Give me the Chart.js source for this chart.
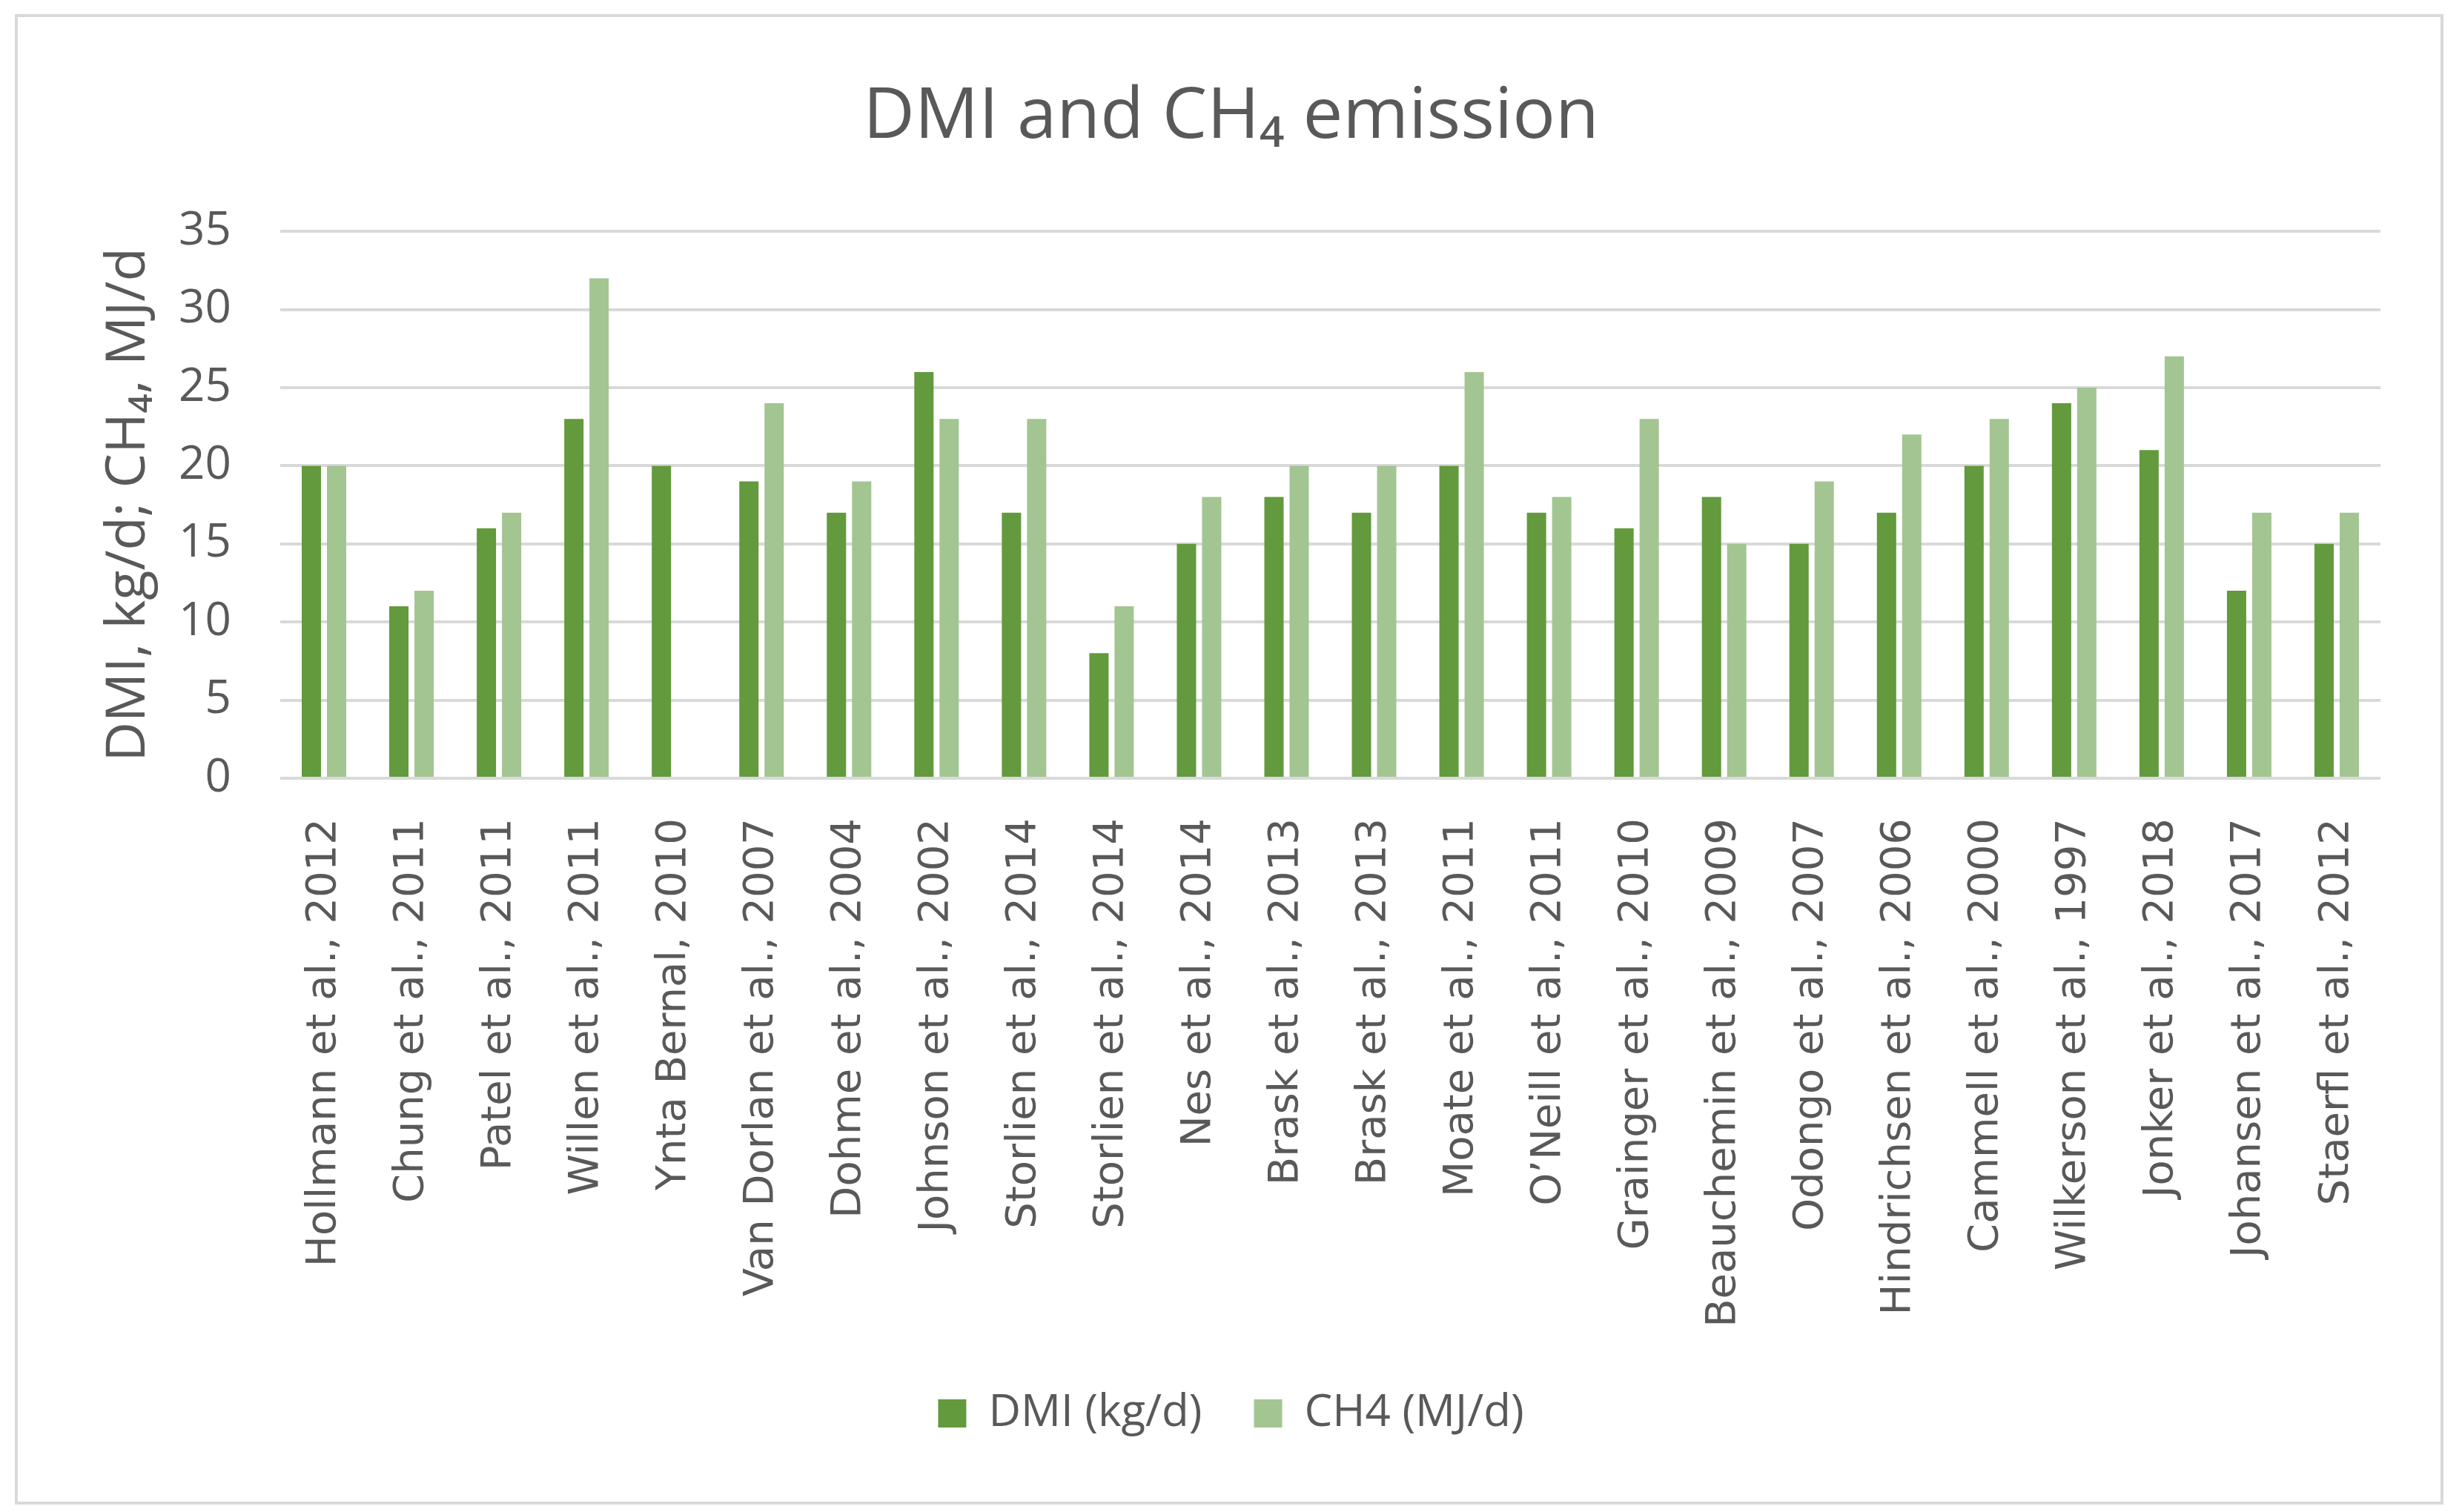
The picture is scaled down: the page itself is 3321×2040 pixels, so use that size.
<!DOCTYPE html>
<html>
<head>
<meta charset="utf-8">
<script src="https://cdn.jsdelivr.net/npm/chart.js@4.4.1/dist/chart.umd.min.js"></script>
<style>
  html, body { margin: 0; padding: 0; background: #fff; }
  canvas { display: block; }
</style>
</head>
<body>
<canvas id="c" width="3321" height="2040" style="width:3321px;height:2040px"></canvas>
<script>
var studies = [
  'Hollmann et al., 2012', 'Chung et al., 2011', 'Patel et al., 2011', 'Willen et al., 2011',
  'Ynta Bernal, 2010', 'Van Dorlan et al., 2007', 'Dohme et al., 2004', 'Johnson et al., 2002',
  'Storlien et al., 2014', 'Storlien et al., 2014', 'Nes et al., 2014', 'Brask et al., 2013',
  'Brask et al., 2013', 'Moate et al., 2011', 'O\u2019Neill et al., 2011', 'Grainger et al., 2010',
  'Beauchemin et al., 2009', 'Odongo et al., 2007', 'Hindrichsen et al., 2006', 'Cammell et al., 2000',
  'Wilkerson et al., 1997', 'Jonker et al., 2018', 'Johansen et al., 2017', 'Staerfl et al., 2012'
];
var dmi = [20, 11, 16, 23, 20, 19, 17, 26, 17, 8, 15, 18, 17, 20, 17, 16, 18, 15, 17, 20, 24, 21, 12, 15];
var ch4 = [20, 12, 17, 32, null, 24, 19, 23, 23, 11, 18, 20, 20, 26, 18, 23, 15, 19, 22, 23, 25, 27, 17, 17];
var yTicks = [0, 5, 10, 15, 20, 25, 30, 35];

var grey = '#595959';
Chart.defaults.font.family = "'Open Sans', sans-serif";
Chart.defaults.color = grey;

// white background + thin outer frame
var frame = {
  id: 'frame',
  beforeDraw: function (chart) {
    var ctx = chart.ctx;
    ctx.save();
    ctx.fillStyle = '#fff';
    ctx.fillRect(0, 0, chart.width, chart.height);
    ctx.strokeStyle = '#d9d9d9';
    ctx.lineWidth = 4;
    ctx.strokeRect(22, 21, 3272, 2007);
    ctx.restore();
  }
};

new Chart(document.getElementById('c').getContext('2d'), {
  type: 'bar',
  data: {
    labels: studies,
    datasets: [
      { label: 'DMI (kg/d)', data: dmi, backgroundColor: '#629a3d', categoryPercentage: 0.576, barPercentage: 0.765 },
      { label: 'CH4 (MJ/d)', data: ch4, backgroundColor: '#a3c592', categoryPercentage: 0.576, barPercentage: 0.765 }
    ]
  },
  options: {
    responsive: false,
    devicePixelRatio: 1,
    animation: false,
    layout: { padding: { top: 40, left: 40, right: 40, bottom: 93 } },
    plugins: {
      title: {
        display: true,
        text: 'DMI and CH\u2084 emission',
        color: grey,
        font: { size: 96, weight: 'normal' },
        padding: { top: 61, bottom: 96 }
      },
      legend: {
        position: 'bottom',
        labels: {
          boxWidth: 38,
          boxHeight: 38,
          padding: 70,
          color: grey,
          font: { size: 60 }
        }
      },
      tooltip: { enabled: false }
    },
    scales: {
      x: {
        grid: { display: false },
        border: { display: false },
        ticks: {
          minRotation: 90,
          maxRotation: 90,
          autoSkip: false,
          padding: 46,
          color: grey,
          font: { family: "'DejaVu Sans', sans-serif", size: 56 }
        },
        afterFit: function (s) { s.height = 757; }
      },
      y: {
        min: 0,
        max: 35,
        afterBuildTicks: function (s) { s.ticks = yTicks.map(function (v) { return { value: v }; }); },
        grid: { color: '#d9d9d9', lineWidth: 4, drawTicks: false },
        border: { display: false },
        ticks: { padding: 66, color: grey, font: { size: 62 } },
        title: {
          display: true,
          text: 'DMI, kg/d; CH\u2084, MJ/d',
          color: grey,
          font: { size: 74 },
          padding: { top: 90, bottom: 0 }
        },
        afterFit: function (s) { s.width = 338; }
      },
      y2: {
        position: 'right',
        display: true,
        grid: { display: false },
        border: { display: false },
        ticks: { display: false },
        afterFit: function (s) { s.width = 70; }
      }
    }
  },
  plugins: [frame]
});
</script>
</body>
</html>
